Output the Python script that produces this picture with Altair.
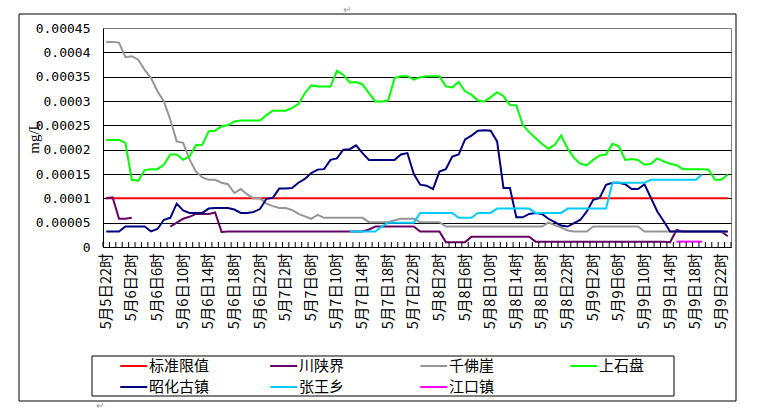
import altair as alt
import pandas as pd

N = None

# ---- categories (hourly, 5月5日22时 .. 5月9日23时) ----
hour_slots = [(5, 22), (5, 23)] + [(d, h) for d in (6, 7, 8, 9) for h in range(24)]
times = [f"5月{d}日{h}时" for d, h in hour_slots]
label_ticks = list(range(0, 98, 4))

# ---- series values (unit: 1e-5 mg/L) ----
UNIT = 1e-5
limit_std = [10.0] * 98

chuanshaanjie = [
    10.0, 10.2, 5.8, 5.8, 6.0, N, N, N, N, N,
    4.2, 5.0, 5.8, 6.2, 6.8, 6.8, 6.8, 7.1, 3.1, 3.2,
    3.2, 3.2, 3.2, 3.2, 3.2, 3.2, 3.2, 3.2, 3.2, 3.2,
    3.2, 3.2, 3.2, 3.2, 3.2, 3.2, 3.2, 3.2, 3.2, 3.2,
    3.2, 3.6, 4.2, 4.2, 4.2, 4.2, 4.2, 4.2, 4.2, 3.2,
    3.2, 3.2, 3.2, 1.0, 1.0, 1.0, 1.0, 2.1, 2.1, 2.1,
    2.1, 2.1, 2.1, 2.1, 2.1, 2.1, 2.1, 1.1, 1.1, 1.1,
    1.1, 1.1, 1.1, 1.1, 1.1, 1.1, 1.1, 1.1, 1.1, 1.1,
    1.1, 1.1, 1.1, 1.1, 1.1, 1.1, 1.1, 1.1, 1.0, 3.5,
    3.2, 3.2, 3.2, 3.2, 3.2, 3.2, 3.2, 2.2,
]

qianfoya = [
    42.1, 42.1, 42.0, 39.0, 39.2, 38.5, 36.4, 34.7, 32.0, 29.9,
    26.2, 21.7, 21.4, 18.0, 15.5, 14.3, 13.8, 13.8, 13.2, 12.9,
    11.1, 11.9, 10.8, 10.0, 10.0, 8.9, 8.4, 8.0, 8.0, 7.6,
    6.8, 6.3, 5.8, 6.6, 6.0, 6.0, 6.0, 6.0, 6.0, 6.0,
    6.0, 5.1, 5.1, 5.1, 5.1, 5.5, 5.8, 5.8, 5.8, 5.1,
    5.1, 5.1, 5.1, 4.2, 4.2, 4.2, 4.2, 4.2, 4.2, 4.2,
    4.2, 4.2, 4.2, 4.2, 4.2, 4.2, 4.2, 4.2, 4.2, 5.0,
    4.5, 4.0, 3.4, 3.2, 3.2, 3.2, 4.2, 4.2, 4.2, 4.2,
    4.2, 4.2, 4.2, 4.2, 3.2, 3.2, 3.2, 3.2, 3.2, 3.2,
    3.2, 3.2, 3.2, 3.2, 3.2, 3.2, 3.2, 3.2,
]

shangshipan = [
    22.0, 22.0, 22.0, 21.4, 13.8, 13.6, 15.8, 16.0, 16.0, 16.9,
    19.0, 19.0, 17.9, 18.6, 20.9, 21.0, 23.8, 23.9, 24.8, 25.0,
    25.8, 26.0, 26.0, 26.0, 26.0, 27.1, 28.0, 28.0, 28.0, 28.6,
    29.4, 31.6, 33.2, 33.0, 33.0, 33.0, 36.2, 35.4, 33.8, 33.9,
    33.4, 31.6, 29.9, 29.9, 30.1, 34.7, 35.1, 35.1, 34.4, 34.9,
    35.1, 35.1, 35.1, 33.0, 32.8, 33.9, 32.0, 31.3, 30.1, 29.9,
    30.8, 31.8, 31.0, 29.2, 29.1, 25.1, 23.6, 22.4, 21.2, 20.2,
    21.0, 22.9, 20.2, 18.3, 17.1, 16.8, 17.9, 18.8, 19.0, 21.2,
    20.7, 17.9, 18.1, 17.9, 16.9, 17.1, 18.2, 17.6, 17.1, 16.8,
    16.0, 16.0, 16.0, 16.0, 15.9, 13.8, 13.8, 14.9,
]

zhaohuaguzhen = [
    3.2, 3.2, 3.2, 4.2, 4.2, 4.2, 4.2, 3.2, 3.7, 5.6,
    6.0, 8.9, 7.5, 7.0, 7.0, 7.0, 7.9, 8.0, 8.0, 8.0,
    7.7, 7.0, 7.0, 7.2, 7.8, 9.9, 10.1, 12.0, 12.0, 12.1,
    13.2, 14.0, 15.2, 15.9, 16.0, 17.9, 18.2, 20.0, 20.1, 20.9,
    19.3, 17.9, 17.9, 17.9, 17.9, 17.9, 19.0, 19.3, 15.0, 12.8,
    12.6, 11.9, 15.5, 16.0, 18.6, 19.0, 22.1, 22.9, 23.9, 24.0,
    23.9, 21.7, 12.1, 12.1, 6.1, 6.1, 6.8, 7.0, 6.8, 5.8,
    5.1, 4.4, 4.2, 4.9, 5.6, 7.3, 9.7, 10.1, 12.8, 13.2,
    13.2, 12.9, 11.9, 11.9, 12.9, 10.1, 7.3, 5.3, 3.2, 3.2,
    3.2, 3.2, 3.2, 3.2, 3.2, 3.2, 3.2, 3.2,
]

zhangwangxiang = [
    N, N, N, N, N, N, N, N, N, N,
    N, N, N, N, N, N, N, N, N, N,
    N, N, N, N, N, N, N, N, N, N,
    N, N, N, N, N, N, N, N, 3.2, 3.2,
    3.2, 3.2, 3.2, 4.2, 5.0, 5.0, 5.0, 5.0, 5.0, 7.0,
    7.0, 7.0, 7.0, 7.0, 7.0, 6.0, 6.0, 6.0, 7.0, 7.0,
    7.0, 7.9, 7.9, 7.9, 7.9, 7.9, 7.9, 7.0, 7.0, 7.0,
    7.0, 7.0, 7.9, 7.9, 7.9, 7.9, 7.9, 7.9, 7.9, 13.2,
    13.2, 13.2, 13.2, 13.2, 13.2, 13.8, 13.8, 13.8, 13.8, 13.8,
    13.8, 13.8, 13.8, 14.9, N, N, N, N,
]

jiangkouzhen = [N] * 89 + [1.1, 1.1, 1.1, 1.1, 1.1] + [N] * 4

series_names = ["标准限值", "川陕界", "千佛崖", "上石盘", "昭化古镇", "张王乡", "江口镇"]
series_values = [limit_std, chuanshaanjie, qianfoya, shangshipan,
                 zhaohuaguzhen, zhangwangxiang, jiangkouzhen]
series_colors = ["#FF0000", "#660066", "#969696", "#00FF00",
                 "#000080", "#00CCFF", "#FF00FF"]

y_tick_values = [0, 0.00005, 0.0001, 0.00015, 0.0002, 0.00025,
                 0.0003, 0.00035, 0.0004, 0.00045]

# ---- build long table ----
rows = []
for name, vals in zip(series_names, series_values):
    seg = 0
    prev_none = False
    for i, v in enumerate(vals):
        if v is None:
            if not prev_none:
                seg += 1
            prev_none = True
            continue
        prev_none = False
        rows.append({"idx": i, "val": v * UNIT, "name": name, "seg": f"{name}_{seg}"})
df = pd.DataFrame(rows)

ticks_df = pd.DataFrame({"idx": [k - 0.5 for k in range(len(times) + 1)]})
one = pd.DataFrame({"a": [0]})

W, H = 628, 219
FONT_CJK = "Noto Sans CJK SC"

label_expr = "[" + ",".join(f"'{t}'" for t in times) + "][datum.value]"

x_enc = alt.X(
    "idx:Q",
    scale=alt.Scale(domain=[-0.5, len(times) - 0.5], nice=False, zero=False),
    axis=alt.Axis(
        values=label_ticks, labelExpr=label_expr, labelAngle=270, ticks=False,
        grid=False, domainColor="black", domainWidth=1, labelFont=FONT_CJK,
        labelFontSize=14.5, labelColor="black", labelPadding=6, title=None,
        labelOverlap=False, labelFlush=False,
    ),
)

y_enc = alt.Y(
    "val:Q",
    scale=alt.Scale(domain=[0, 0.00045], nice=False, zero=True),
    axis=alt.Axis(
        values=y_tick_values, format="~g", ticks=False, grid=True,
        gridColor=alt.condition("datum.value > 0.00044", alt.value("#808080"), alt.value("black")),
        gridWidth=1, domainColor="black", domainWidth=1,
        labelFont="DejaVu Sans Mono", labelFontSize=13, labelColor="black",
        labelPadding=13, title="mg/L", titleFont="Liberation Serif",
        titleFontSize=15, titleFontWeight="normal", titleColor="black",
        titleAngle=270, titleX=-70, titleY=109, titleAlign="center",
        titleBaseline="middle",
    ),
)

lines = alt.Chart(df).mark_line(strokeWidth=2, clip=True).encode(
    x=x_enc,
    y=y_enc,
    color=alt.Color(
        "name:N",
        scale=alt.Scale(domain=series_names, range=series_colors),
        legend=alt.Legend(
            title=None, orient="none", legendX=16, legendY=330,
            direction="horizontal", columns=4, symbolType="M-1,0H3",
            symbolSize=182, symbolStrokeWidth=2, labelFont=FONT_CJK,
            labelFontSize=15, labelColor="black", labelOffset=14,
            columnPadding=56, rowPadding=5, gridAlign="all", padding=0,
            labelLimit=0,
        ),
    ),
    detail="seg:N",
    order="idx:Q",
)

tick_marks = alt.Chart(ticks_df).mark_rule(color="black", strokeWidth=1).encode(
    x=x_enc, y=alt.value(H), y2=alt.value(H - 5)
)

outer_box = alt.Chart(one).mark_rect(fillOpacity=0, stroke="black", strokeWidth=1).encode(
    x=alt.value(-84), x2=alt.value(633), y=alt.value(-14), y2=alt.value(373)
)
legend_box = alt.Chart(one).mark_rect(fillOpacity=0, stroke="black", strokeWidth=1).encode(
    x=alt.value(-11), x2=alt.value(571), y=alt.value(328), y2=alt.value(368)
)
mark_top = alt.Chart(one).mark_text(text="↵", fontSize=10, color="#999999").encode(
    x=alt.value(244), y=alt.value(-18)
)
mark_bottom = alt.Chart(one).mark_text(text="↵", fontSize=10, color="#999999").encode(
    x=alt.value(-3), y=alt.value(378)
)

chart = alt.layer(lines, tick_marks, outer_box, legend_box, mark_top, mark_bottom).properties(
    width=W, height=H,
    padding={"left": 103, "top": 28, "right": 26, "bottom": 166},
    autosize=alt.AutoSizeParams(type="none"),
    background="white",
).configure_view(stroke="#808080", strokeWidth=1)

chart.save("out.html", embed_options={"renderer": "svg", "actions": False})
